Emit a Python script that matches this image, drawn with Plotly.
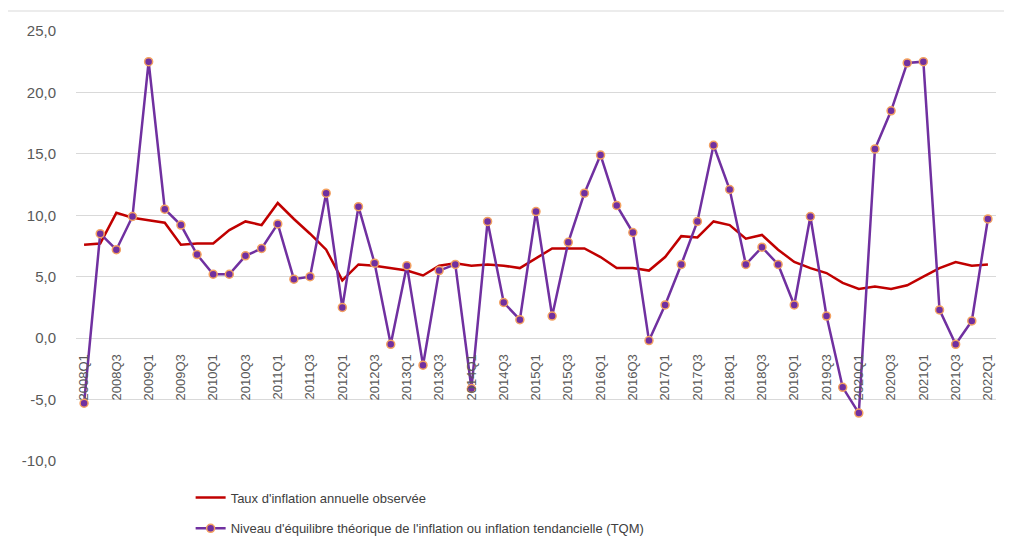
import plotly.graph_objects as go

quarters = [f"{y}Q{q}" for y in range(2008, 2022) for q in range(1, 5)] + ["2022Q1"]

inflation_observed = [
    7.6, 7.7, 10.2, 9.8, 9.6, 9.4, 7.6, 7.7,
    7.7, 8.8, 9.5, 9.2, 11.0, 9.7, 8.5, 7.2,
    4.7, 6.0, 5.9, 5.7, 5.5, 5.1, 5.9, 6.1,
    5.9, 6.0, 5.9, 5.7, 6.5, 7.3, 7.3, 7.3,
    6.6, 5.7, 5.7, 5.5, 6.6, 8.3, 8.2, 9.5,
    9.2, 8.1, 8.4, 7.2, 6.2, 5.7, 5.3, 4.5,
    4.0, 4.2, 4.0, 4.3, 5.0, 5.7, 6.2, 5.9,
    6.0,
]

inflation_tqm = [
    -5.3, 8.5, 7.2, 9.9, 22.5, 10.5, 9.2, 6.8,
    5.2, 5.2, 6.7, 7.3, 9.3, 4.8, 5.0, 11.8,
    2.5, 10.7, 6.1, -0.5, 5.9, -2.2, 5.5, 6.0,
    -4.1, 9.5, 2.9, 1.5, 10.3, 1.8, 7.8, 11.8,
    14.9, 10.8, 8.6, -0.2, 2.7, 6.0, 9.5, 15.7,
    12.1, 6.0, 7.4, 6.0, 2.7, 9.9, 1.8, -4.0,
    -6.1, 15.4, 18.5, 22.4, 22.5, 2.3, -0.5, 1.4,
    9.7,
]

y_ticks = [25, 20, 15, 10, 5, 0, -5, -10]
y_tick_text = ["25,0", "20,0", "15,0", "10,0", "5,0", "0,0", "-5,0", "-10,0"]
x_tick_labels = quarters[::2]

name_obs = "Taux d'inflation annuelle observée"
name_tqm = "Niveau d'équilibre théorique de l'inflation ou inflation tendancielle (TQM)"

fig = go.Figure()
fig.add_trace(go.Scatter(
    x=quarters, y=inflation_observed, mode="lines", name=name_obs,
    line=dict(color="#C00000", width=2.5), legendgroup="a", hoverinfo="skip",
))
fig.add_trace(go.Scatter(
    x=quarters, y=inflation_tqm, mode="lines+markers", name=name_tqm,
    line=dict(color="#7030A0", width=2.5),
    marker=dict(size=8, color="#7030A0", line=dict(color="#F4A261", width=1.5)),
    legendgroup="b", hoverinfo="skip",
))

# page body adds an 8px offset; plot area in figure coords: x 68..988, y 23..453
fig.update_layout(
    width=1012, height=549,
    margin=dict(l=68, r=24, t=23, b=96, autoexpand=False),
    paper_bgcolor="white", plot_bgcolor="white",
    font=dict(family="Liberation Sans, Arial, sans-serif", color="#595959"),
    showlegend=True,
    legend=dict(
        x=0.1246, y=-0.050, xanchor="left", yanchor="top",
        orientation="v", font=dict(size=13, color="#404040"),
        tracegroupgap=11, bgcolor="rgba(0,0,0,0)",
    ),
    xaxis=dict(
        type="category", categoryorder="array", categoryarray=quarters,
        range=[-0.5, len(quarters) - 0.5],
        tickmode="array", tickvals=x_tick_labels, ticktext=x_tick_labels,
        tickangle=-90, tickfont=dict(size=13, color="#595959"),
        showgrid=False, showline=False, zeroline=False,
        ticks="outside", ticklen=10, tickcolor="rgba(0,0,0,0)",
        anchor="free", position=(461 - 338) / 430, automargin=False,
    ),
    yaxis=dict(
        range=[-10, 25], tickmode="array", tickvals=y_ticks, ticktext=y_tick_text,
        tickfont=dict(size=15, color="#595959"),
        showgrid=True, gridcolor="#D9D9D9", gridwidth=1,
        zeroline=False, showline=False, automargin=False,
        ticks="outside", ticklen=16, tickcolor="rgba(0,0,0,0)",
    ),
    shapes=[dict(
        type="rect", xref="paper", yref="paper",
        x0=(7 - 76) / 920, x1=(1030 - 76) / 920,
        y0=(461 - 570) / 430, y1=(461 - 11) / 430,
        line=dict(color="#D9D9D9", width=1), fillcolor="rgba(0,0,0,0)", layer="below",
    )],
)

fig.write_html("out.html")
